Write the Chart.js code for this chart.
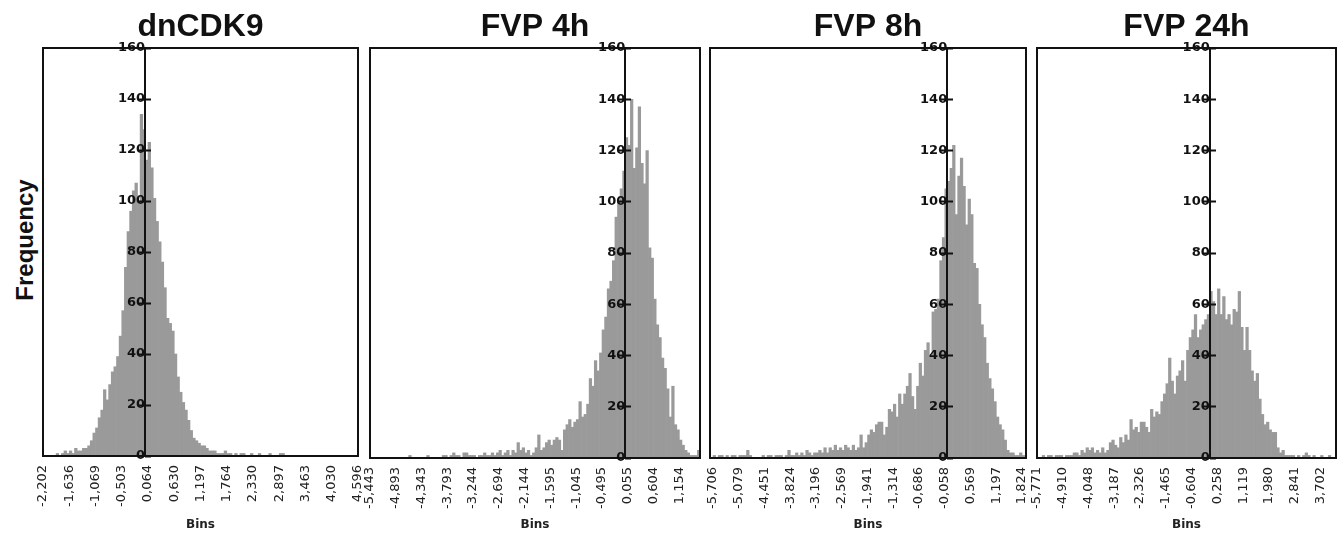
<!DOCTYPE html>
<html>
<head>
<meta charset="utf-8">
<script src="https://cdn.jsdelivr.net/npm/chart.js@4.4.0/dist/chart.umd.min.js"></script>
<style>
  html, body { margin: 0; padding: 0; background: #fff; }
  #wrap { position: relative; width: 1344px; height: 536px; overflow: hidden; }
  canvas { position: absolute; top: 0; }
  #ylab {
    position: absolute; left: 25px; top: 240px;
    transform: translate(-50%, -50%) rotate(-90deg);
    font: bold 24px "Liberation Sans", Arial, sans-serif;
    color: #111; white-space: nowrap;
  }
</style>
</head>
<body>
<div id="wrap">
  <div id="ylab">Frequency</div>
  <canvas id="c1"></canvas>
  <canvas id="c2"></canvas>
  <canvas id="c3"></canvas>
  <canvas id="c4"></canvas>
</div>
<script>
// Panel titles
const titles = ['dnCDK9', 'FVP 4h', 'FVP 8h', 'FVP 24h'];

// Tick labels along each "Bins" axis (first label = start of the first bin)
const dnTicks = ['-2,202', '-1,636', '-1,069', '-0,503', '0,064', '0,630', '1,197', '1,764', '2,330', '2,897', '3,463', '4,030', '4,596'];
const h4Ticks = ['-5,443', '-4,893', '-4,343', '-3,793', '-3,244', '-2,694', '-2,144', '-1,595', '-1,045', '-0,495', '0,055', '0,604', '1,154'];
const h8Ticks = ['-5,706', '-5,079', '-4,451', '-3,824', '-3,196', '-2,569', '-1,941', '-1,314', '-0,686', '-0,058', '0,569', '1,197', '1,824'];
const h24Ticks = ['-5,771', '-4,910', '-4,048', '-3,187', '-2,326', '-1,465', '-0,604', '0,258', '1,119', '1,980', '2,841', '3,702'];

// Axis ranges [min, max] and bin widths
const dnRange = [-2.202, 4.596];
const h4Range = [-5.443, 1.594];
const h8Range = [-5.78, 1.92];
const h24Range = [-5.771, 4.219];
const dnBin = 0.05665;
const h4Bin = 0.054975;
const h8Bin = 0.06275;
const h24Bin = 0.08612;

// Frequencies per bin
const dnCounts = [
  0, 0, 0, 0, 0, 1, 0, 1, 2, 1,
  2, 1, 3, 2, 2, 3, 3, 4, 6, 9,
  11, 15, 18, 26, 22, 28, 33, 35, 39, 47,
  57, 74, 88, 96, 104, 107, 100, 134, 128, 116,
  123, 113, 101, 92, 84, 76, 66, 54, 52, 49,
  40, 31, 25, 21, 18, 14, 10, 7, 6, 5,
  4, 4, 3, 2, 2, 2, 1, 1, 1, 2,
  1, 1, 0, 1, 0, 1, 1, 0, 0, 1,
  0, 0, 1, 0, 0, 0, 1, 0, 0, 0,
  1, 1, 0, 0, 0, 0, 0, 0, 0, 0,
  0, 0, 0, 0, 0, 0, 0, 0, 0, 0,
  0, 0, 0, 0, 0, 0, 0, 0, 0, 0
];
const h4Counts = [
  0, 0, 0, 0, 0, 0, 0, 0, 0, 0,
  0, 0, 0, 0, 0, 1, 0, 0, 0, 0,
  0, 0, 1, 0, 0, 0, 0, 0, 1, 1,
  0, 1, 2, 1, 1, 0, 2, 2, 1, 1,
  1, 0, 1, 1, 2, 1, 1, 2, 1, 2,
  3, 1, 2, 3, 1, 3, 2, 6, 3, 4,
  2, 3, 1, 2, 4, 9, 3, 4, 6, 7,
  5, 7, 8, 7, 3, 11, 13, 15, 12, 14,
  15, 22, 16, 17, 21, 31, 28, 38, 34, 41,
  50, 55, 66, 69, 77, 94, 100, 105, 112, 125,
  122, 140, 113, 121, 137, 115, 107, 120, 82, 78,
  62, 52, 47, 39, 35, 27, 16, 28, 13, 11,
  7, 5, 3, 2, 1, 1, 1, 3
];
const h8Counts = [
  1, 0, 1, 1, 0, 1, 0, 1, 1, 0,
  1, 1, 1, 3, 1, 0, 0, 0, 0, 1,
  0, 1, 1, 0, 1, 1, 1, 0, 1, 3,
  1, 1, 2, 1, 2, 1, 3, 2, 1, 2,
  2, 3, 2, 4, 2, 4, 3, 5, 3, 4,
  3, 5, 4, 3, 5, 3, 4, 9, 4, 6,
  9, 11, 10, 13, 14, 14, 9, 12, 19, 18,
  21, 16, 25, 21, 25, 28, 33, 24, 19, 28,
  37, 32, 42, 45, 40, 57, 58, 62, 77, 86,
  105, 108, 113, 122, 95, 110, 117, 106, 91, 101,
  95, 76, 74, 60, 52, 47, 37, 31, 27, 22,
  16, 13, 11, 7, 3, 2, 2, 1, 1, 2,
  1
];
const h24Counts = [
  0, 0, 1, 0, 1, 1, 0, 1, 1, 1,
  0, 1, 1, 1, 2, 2, 1, 3, 2, 4,
  3, 4, 2, 3, 2, 4, 2, 3, 6, 7,
  5, 4, 8, 6, 9, 7, 15, 11, 12, 10,
  14, 14, 12, 10, 19, 16, 18, 17, 22, 25,
  29, 39, 30, 25, 32, 34, 38, 30, 42, 47,
  50, 56, 47, 50, 52, 54, 56, 65, 61, 56,
  66, 56, 63, 54, 56, 52, 58, 57, 65, 51,
  42, 51, 42, 34, 30, 33, 23, 17, 13, 14,
  11, 10, 10, 4, 2, 3, 1, 1, 1, 1,
  0, 1, 0, 1, 2, 1, 0, 1, 0, 0,
  1, 0, 0, 1, 0, 0
];

// Canvas placement for each panel
const panels = [
  { id: 'c1', left: 33, width: 335, padL: 10, padR: 10, axisH: 80, title: titles[0], ticks: dnTicks, range: dnRange, bin: dnBin, counts: dnCounts },
  { id: 'c2', left: 360, width: 350, padL: 10, padR: 10, axisH: 78, title: titles[1], ticks: h4Ticks, range: h4Range, bin: h4Bin, counts: h4Counts },
  { id: 'c3', left: 700, width: 336, padL: 10, padR: 10, axisH: 78, title: titles[2], ticks: h8Ticks, range: h8Range, bin: h8Bin, counts: h8Counts },
  { id: 'c4', left: 1027, width: 317, padL: 10, padR: 8, axisH: 78, title: titles[3], ticks: h24Ticks, range: h24Range, bin: h24Bin, counts: h24Counts }
];

const INK = '#111';
const BAR = '#9a9a9a';

// Box around the plot area
const framePlugin = {
  id: 'frame',
  afterDatasetsDraw(chart) {
    const { ctx, chartArea: a } = chart;
    ctx.save();
    ctx.strokeStyle = INK;
    ctx.lineWidth = 2;
    ctx.strokeRect(a.left, a.top, a.right - a.left, a.bottom - a.top);
    ctx.restore();
  }
};

function tickValue(label) {
  return parseFloat(label.replace(',', '.'));
}

function renderPanel(p) {
  const canvas = document.getElementById(p.id);
  canvas.width = p.width;
  canvas.height = 536;
  canvas.style.left = p.left + 'px';

  const start = tickValue(p.ticks[0]);
  const points = p.counts.map((c, i) => ({ x: start + (i + 0.5) * p.bin, y: c }));

  new Chart(canvas, {
    type: 'bar',
    data: {
      datasets: [{
        data: points,
        backgroundColor: BAR,
        borderWidth: 0,
        barPercentage: 1,
        categoryPercentage: 1
      }]
    },
    plugins: [framePlugin],
    options: {
      responsive: false,
      animation: false,
      events: [],
      layout: { padding: { left: p.padL, right: p.padR, top: 0, bottom: 0 } },
      plugins: {
        legend: { display: false },
        tooltip: { enabled: false },
        title: {
          display: true,
          text: p.title,
          color: INK,
          font: { family: 'Liberation Sans', size: 32, weight: 'bold' },
          padding: { top: 8, bottom: 1.6 }
        }
      },
      scales: {
        x: {
          type: 'linear',
          position: 'bottom',
          offset: false,
          min: p.range[0],
          max: p.range[1],
          afterBuildTicks: axis => {
            axis.ticks = p.ticks.map(t => ({ value: tickValue(t) }));
          },
          afterFit: scale => {
            scale.height = p.axisH;
            scale.paddingLeft = 0;
            scale.paddingRight = 0;
          },
          ticks: {
            autoSkip: false,
            minRotation: 90,
            maxRotation: 90,
            padding: 9,
            color: '#222',
            font: { family: 'DejaVu Sans', size: 13 },
            callback: (v, i) => p.ticks[i]
          },
          grid: { display: false, drawTicks: false, offset: false },
          border: { display: true, color: INK, width: 2, z: 1 },
          title: {
            display: true,
            text: 'Bins',
            color: '#222',
            font: { family: 'DejaVu Sans', size: 12, weight: 'bold' },
            padding: { top: 0, bottom: 4 }
          }
        },
        y: {
          min: 0,
          max: 160,
          position: { x: 0 },
          ticks: {
            stepSize: 20,
            padding: 3,
            z: 1,
            color: INK,
            font: { family: 'DejaVu Sans', size: 13, weight: 'bold' }
          },
          grid: { drawOnChartArea: false, tickLength: 6, tickWidth: 2, tickColor: INK, z: 1 },
          border: { display: true, color: INK, width: 2, z: 1 }
        },
        // second copy of the axis only to draw tick marks on the right side
        yr: {
          min: 0,
          max: 160,
          position: { x: 0 },
          ticks: { display: false, stepSize: 20 },
          grid: { drawOnChartArea: false, tickLength: -6, tickWidth: 2, tickColor: INK, z: 1 },
          border: { display: false }
        }
      }
    }
  });
}

panels.forEach(renderPanel);
</script>
</body>
</html>
